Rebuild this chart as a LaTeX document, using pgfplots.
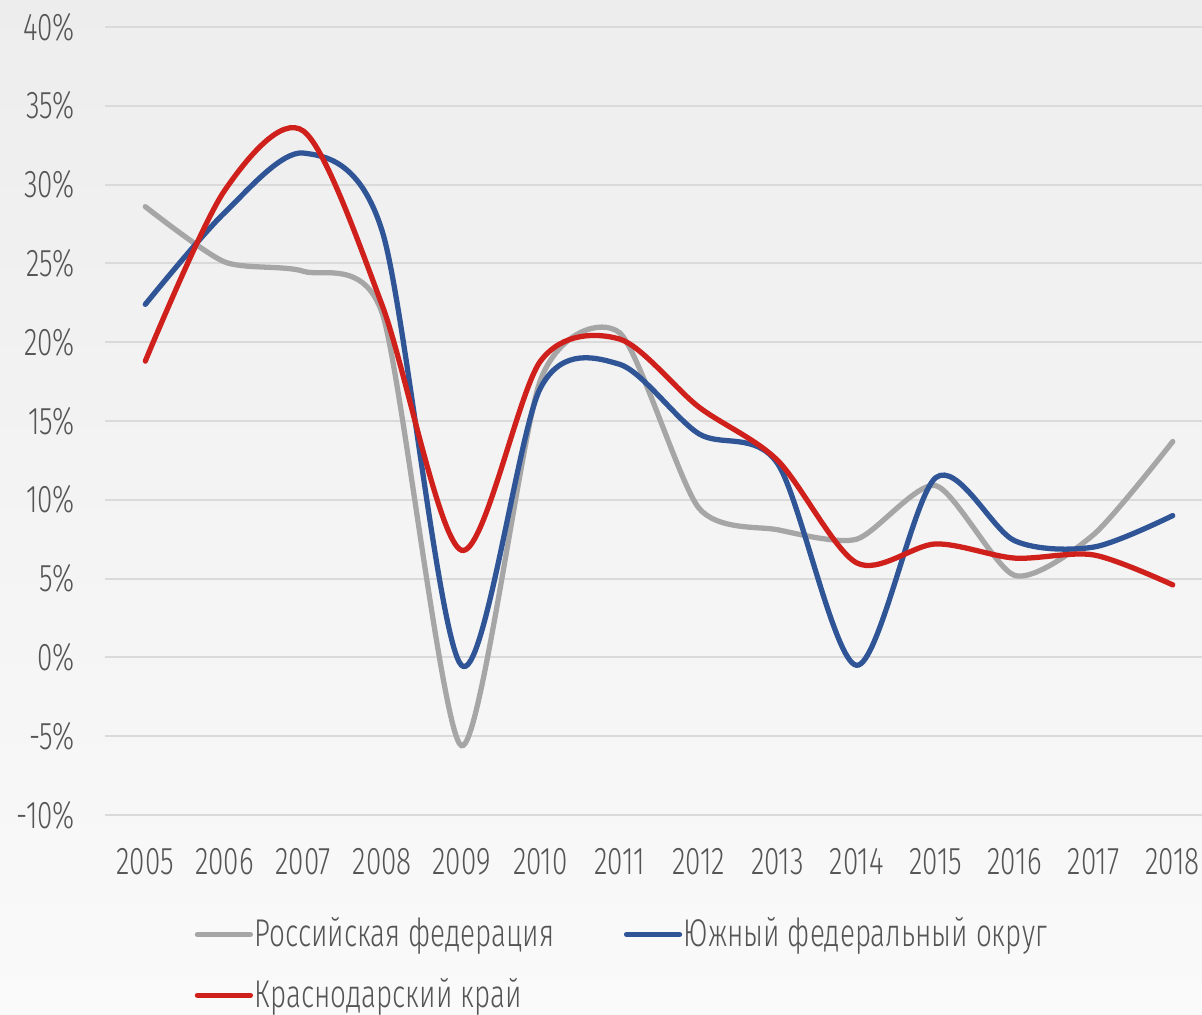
\documentclass[border=0pt]{standalone}
\usepackage{pgfplots}
\pgfplotsset{compat=1.18}
\usepackage{fontspec}
\setmainfont{Fira Sans Light}[FakeStretch=0.72]
\usetikzlibrary{calc,backgrounds}

\definecolor{rfgray}{HTML}{A6A6A6}
\definecolor{ufoblue}{HTML}{2F5597}
\definecolor{krred}{HTML}{D0201C}
\definecolor{gridc}{HTML}{DADADA}
\definecolor{txt}{HTML}{555555}

\begin{document}
\begin{tikzpicture}
\begin{axis}[
    name=ax,
    scale only axis,
    width=10.97cm,
    height=7.88cm,
    xmin=2004.49, xmax=2018.37,
    ymin=-10, ymax=40,
    axis line style={draw=none},
    major tick length=0pt,
    xtick={2005,...,2018},
    ytick={-10,-5,0,5,10,15,20,25,30,35,40},
    yticklabels={-10\%,-5\%,0\%,5\%,10\%,15\%,20\%,25\%,30\%,35\%,40\%},
    ymajorgrids,
    grid style={gridc, line width=0.6pt},
    /pgf/number format/assume math mode=true,
    /pgf/number format/1000 sep={},
    tick label style={font=\fontsize{11}{13}\selectfont, text=txt},
    yticklabel style={xshift=-5pt},
    xticklabel style={yshift=-6pt},
    legend columns=2,
    legend cell align=left,
    legend style={
        draw=none, fill=none, inner sep=0pt,
        at={(axis description cs:0.0812,-0.120)}, anchor=north west,
        font=\fontsize{11}{13}\selectfont, text=txt,
        row sep=3.5pt,
        nodes={inner xsep=0.5pt},
        /tikz/every even column/.append style={column sep=0.68cm},
    },
    legend image code/.code={\draw[#1, line cap=round] (0cm,0cm) -- (0.53cm,0cm);},
    every axis plot/.append style={line width=1.5pt, line cap=round, smooth, no markers},
]
\addplot[rfgray, tension=0.42] coordinates {
    (2005,28.6) (2006,25.1) (2007,24.5) (2008,21.8) (2009,-5.6) (2010,17.6) (2011,20.6)
    (2012,9.5) (2013,8.1) (2014,7.5) (2015,10.9) (2016,5.2) (2017,7.8) (2018,13.7)};
\addplot[ufoblue] coordinates {
    (2005,22.4) (2006,28.2) (2007,32.0) (2008,27.0) (2009,-0.5) (2010,17.1) (2011,18.6)
    (2012,14.2) (2013,12.3) (2014,-0.5) (2015,11.4) (2016,7.4) (2017,7.0) (2018,9.0)};
\addplot[krred] coordinates {
    (2005,18.8) (2006,29.6) (2007,33.4) (2008,22.3) (2009,6.8) (2010,18.8) (2011,20.2)
    (2012,15.9) (2013,12.5) (2014,6.0) (2015,7.2) (2016,6.3) (2017,6.5) (2018,4.6)};
\legend{Российская федерация, Южный федеральный округ, Краснодарский край}
\end{axis}
\begin{scope}[on background layer]
\shade[top color=black!7, bottom color=black!2]
    ($(ax.south west)+(-1.05cm,-1.99cm)$) rectangle ($(ax.north east)+(0cm,0.27cm)$);
\end{scope}
\pgfresetboundingbox
\useasboundingbox ($(ax.south west)+(-1.05cm,-1.99cm)$) rectangle ($(ax.north east)+(0cm,0.27cm)$);
\end{tikzpicture}
\end{document}
